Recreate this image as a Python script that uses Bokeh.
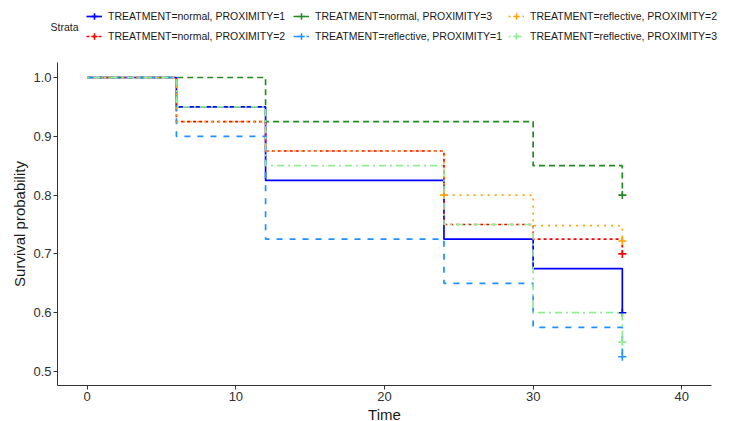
from bokeh.plotting import figure
from bokeh.models import (Legend, LegendItem, Label, FixedTicker,
                          NumeralTickFormatter, Range1d)
from bokeh.embed import file_html
from bokeh.resources import INLINE

# Kaplan-Meier survival estimates per stratum (step after each event time)
times = [0, 6, 12, 24, 30, 36]
times_n3 = [0, 12, 30, 36]

surv_normal_p1 = [1.0, 0.95, 0.825, 0.725, 0.675, 0.6]
surv_normal_p2 = [1.0, 0.925, 0.875, 0.75, 0.725, 0.7]
surv_normal_p3 = [1.0, 0.925, 0.85, 0.8]
surv_reflective_p1 = [1.0, 0.9, 0.725, 0.65, 0.575, 0.525]
surv_reflective_p2 = [1.0, 0.925, 0.875, 0.8, 0.748, 0.722]
surv_reflective_p3 = [1.0, 0.95, 0.85, 0.75, 0.6, 0.55]

# censoring marks (time, survival)
cens_normal_p1 = ([36], [0.6])
cens_normal_p2 = ([36], [0.7])
cens_normal_p3 = ([36], [0.8])
cens_reflective_p1 = ([36], [0.525])
cens_reflective_p2 = ([24, 36], [0.8, 0.722])
cens_reflective_p3 = ([36], [0.55])

strata_labels = [
    "TREATMENT=normal, PROXIMITY=1",
    "TREATMENT=normal, PROXIMITY=2",
    "TREATMENT=normal, PROXIMITY=3",
    "TREATMENT=reflective, PROXIMITY=1",
    "TREATMENT=reflective, PROXIMITY=2",
    "TREATMENT=reflective, PROXIMITY=3",
]

x_ticks = [0, 10, 20, 30, 40]
y_ticks = [0.5, 0.6, 0.7, 0.8, 0.9, 1.0]

FONT = "Liberation Sans"
W, H = 732, 421

# The frame covers the whole canvas; both axes are pinned at fixed data
# positions so the legend strip and axis titles all live inside the frame.
X_LO, X_HI = -2.0, 42.0          # axis extents (time)
Y_LO, Y_HI = 0.476, 1.025        # axis extents (survival)
X_PX = 654.0 / (X_HI - X_LO)     # pixels per time unit
Y_PX = 588.0                     # pixels per survival unit
LEFT, RIGHT = 57, 21             # space left / right of the axes box
x_start = X_LO - LEFT / X_PX
x_end = X_HI + RIGHT / X_PX
y_end = 1.0 + 77 / Y_PX
y_start = y_end - H / Y_PX

styles = [
    ("#0000FF", "solid"),
    ("#FF0000", "3 3"),
    ("#228B22", "6 4"),
    ("#1E90FF", "6 7"),
    ("#FFA500", "2 5"),
    ("#90EE90", "2 4 7 4"),
]
curves = [
    (times, surv_normal_p1, cens_normal_p1),
    (times, surv_normal_p2, cens_normal_p2),
    (times_n3, surv_normal_p3, cens_normal_p3),
    (times, surv_reflective_p1, cens_reflective_p1),
    (times, surv_reflective_p2, cens_reflective_p2),
    (times, surv_reflective_p3, cens_reflective_p3),
]

p = figure(width=W, height=H, output_backend="svg", toolbar_location=None,
           x_range=Range1d(x_start, x_end), y_range=Range1d(y_start, y_end),
           min_border=0, background_fill_color="white",
           border_fill_color="white")
p.outline_line_color = None
p.xgrid.visible = False
p.ygrid.visible = False

for ax in (p.xaxis[0], p.yaxis[0]):
    ax.axis_line_color = "#333333"
    ax.axis_line_width = 1
    ax.major_tick_line_color = "#333333"
    ax.major_tick_out = 4
    ax.major_tick_in = 0
    ax.minor_tick_line_color = None
    ax.major_label_text_font = FONT
    ax.major_label_text_font_size = "13px"
    ax.major_label_text_color = "#303030"
    ax.major_label_standoff = 2
    ax.axis_label_text_font = FONT
    ax.axis_label_text_font_size = "15px"
    ax.axis_label_text_font_style = "normal"
    ax.axis_label_text_color = "#1a1a1a"
    ax.axis_label_standoff = 2

p.xaxis.fixed_location = Y_LO
p.yaxis.fixed_location = X_LO
p.xaxis.bounds = (X_LO, X_HI)
p.yaxis.bounds = (Y_LO, Y_HI)
p.xaxis.ticker = FixedTicker(ticks=x_ticks)
p.yaxis.ticker = FixedTicker(ticks=y_ticks)
p.yaxis.formatter = NumeralTickFormatter(format="0.0")
p.xaxis.axis_label = "Time"
p.yaxis.axis_label = "Survival probability"

items = []
for (t, s, cens), (color, dash), label in zip(curves, styles, strata_labels):
    r_line = p.step(t, s, mode="after", line_color=color, line_width=1.7,
                    line_dash=dash)
    r_mark = p.scatter(cens[0], cens[1], marker="cross", size=8,
                       line_color=color, line_width=1.6)
    items.append(LegendItem(label=label, renderers=[r_line, r_mark]))

# strata legend: three columns of two rows, filled down the columns
col_x = [86, 293, 508]
for ci, vx in enumerate(col_x):
    lg = Legend(items=items[2 * ci:2 * ci + 2], location=(vx, H - 46),
                orientation="vertical", glyph_width=16, glyph_height=20,
                label_height=20, spacing=0, padding=0, margin=0,
                label_standoff=6, border_line_color=None,
                background_fill_alpha=0, label_text_font=FONT,
                label_text_font_size="10.5px", label_text_color="#1a1a1a")
    p.add_layout(lg)

p.add_layout(Label(x=50, y=H - 26, x_units="screen", y_units="screen",
                   text="Strata", text_font=FONT, text_font_size="10.5px",
                   text_color="#1a1a1a", text_baseline="middle",
                   text_align="left"))

open("out.html", "w").write(file_html(p, INLINE))
